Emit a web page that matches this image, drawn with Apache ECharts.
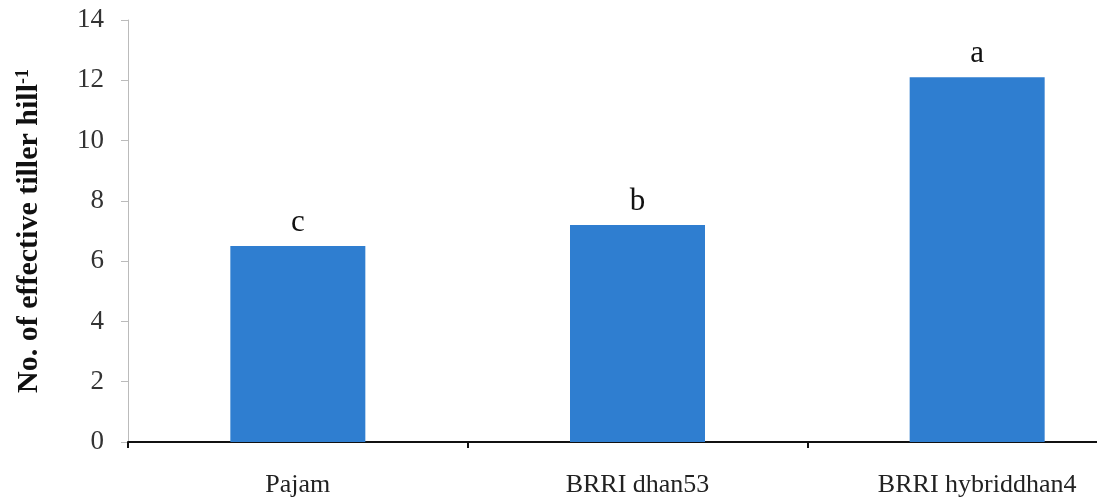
<!DOCTYPE html>
<html>
<head>
<meta charset="utf-8">
<script src="https://cdn.jsdelivr.net/npm/echarts@6/dist/echarts.min.js"></script>
<style>
  html, body { margin: 0; padding: 0; background: #fff; }
  #chart { width: 1097px; height: 499px; }
</style>
</head>
<body>
<div id="chart"></div>
<script>
const varieties = ['Pajam', 'BRRI dhan53', 'BRRI hybriddhan4']
const tillers = [6.5, 7.2, 12.1]
const letters = ['c', 'b', 'a']

const serif = '"Liberation Serif", "Times New Roman", serif'

const chart = echarts.init(document.getElementById('chart'))
chart.setOption({
  animation: false,
  grid: { left: 128, top: 20, bottom: 57, width: 1019, outerBoundsMode: 'none' },
  xAxis: {
    type: 'category',
    data: varieties,
    axisLine: { lineStyle: { color: '#111', width: 2 } },
    axisTick: { show: true, length: 6, lineStyle: { color: '#111', width: 2 } },
    axisLabel: { fontFamily: serif, fontSize: 26, color: '#222', margin: 30 }
  },
  yAxis: {
    type: 'value',
    min: 0,
    max: 14,
    interval: 2,
    splitLine: { show: false },
    axisLine: { show: true, lineStyle: { color: '#bbb', width: 1 } },
    axisTick: { show: true, length: 7, lineStyle: { color: '#bbb' } },
    axisLabel: { fontFamily: serif, fontSize: 27, color: '#333', margin: 24 },
    name: '{t|No. of effective tiller hill}{s|-1}',
    nameLocation: 'middle',
    nameRotate: 90,
    nameGap: 84,
    nameTextStyle: {
      rich: {
        t: { fontFamily: serif, fontSize: 30, fontWeight: 'bold', color: '#111' },
        s: { fontFamily: serif, fontSize: 18, fontWeight: 'bold', color: '#111', verticalAlign: 'top' }
      }
    }
  },
  series: [{
    type: 'bar',
    data: tillers,
    barWidth: 135,
    itemStyle: { color: '#2F7ED0' },
    label: {
      show: true,
      position: 'top',
      distance: 8,
      fontFamily: serif,
      fontSize: 31,
      color: '#111',
      formatter: p => letters[p.dataIndex]
    }
  }]
})
</script>
</body>
</html>
